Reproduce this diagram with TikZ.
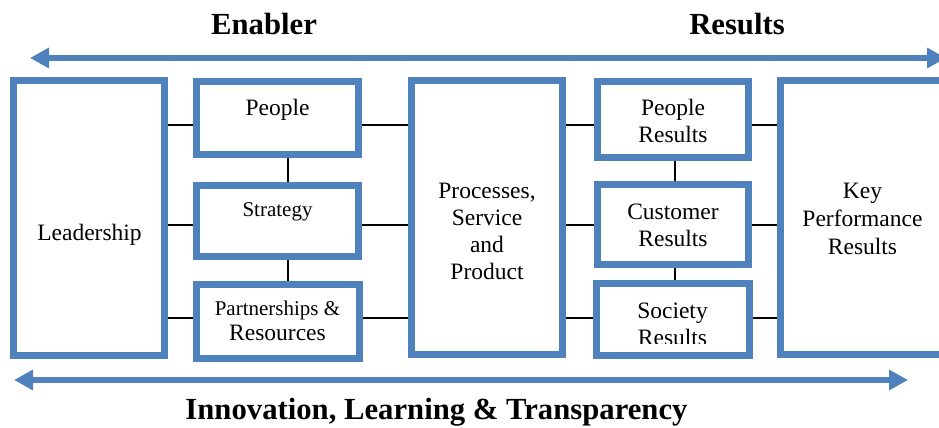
\documentclass[tikz,border=0pt]{standalone}
\usepackage{fontspec}
\setmainfont{Liberation Serif}
\usetikzlibrary{arrows.meta}
\definecolor{efqm}{HTML}{4F81BD}
\begin{document}
\begin{tikzpicture}[x=1pt,y=-1pt,
  box/.style={draw=efqm, line width=7pt, fill=white, inner sep=0pt, rectangle},
  lbl/.style={anchor=base, align=center, inner sep=0pt, font=\fontsize{23.5}{27}\selectfont},
  lblsmall/.style={lbl, font=\fontsize{21}{27}\selectfont},
  ttl/.style={anchor=base, inner sep=0pt, font=\fontsize{30.7}{34}\selectfont\bfseries},
  conn/.style={draw=black, line width=2pt},
  bigarrow/.style={draw=efqm, line width=6pt,
    arrows={Triangle[length=19pt 0 0,width=19.5pt 0 0]-Triangle[length=19pt 0 0,width=19.5pt 0 0]}}
]
\useasboundingbox (0,0) rectangle (939,428);
\clip (0,0) rectangle (939,428);

% row / column levels for connectors
\coordinate (r1) at (0,125);
\coordinate (r2) at (0,225);
\coordinate (r3) at (0,318);
\coordinate (c1) at (288,0);
\coordinate (c2) at (675,0);

% boxes
\node[box, minimum width=151pt, minimum height=275pt] (lead) at (89,218) {};
\node[box, minimum width=162pt, minimum height=73pt] (people) at (277.5,118) {};
\node[box, minimum width=162pt, minimum height=71pt] (strat) at (277.5,221) {};
\node[box, minimum width=163pt, minimum height=74pt] (partner) at (278,321.5) {};
\node[box, minimum width=151pt, minimum height=274pt] (proc) at (487,217.5) {};
\node[box, minimum width=151pt, minimum height=76pt] (pres) at (673,119.5) {};
\node[box, minimum width=151pt, minimum height=80pt] (cres) at (673,224.5) {};
\node[box, minimum width=153pt, minimum height=72pt] (sres) at (673,319.5) {};
\node[box, minimum width=186pt, minimum height=274pt] (kpr) at (873.5,217.5) {};

% connectors
\draw[conn] (lead.east |- r1) -- (people.west |- r1);
\draw[conn] (lead.east |- r2) -- (strat.west |- r2);
\draw[conn] (lead.east |- r3) -- (partner.west |- r3);
\draw[conn] (people.east |- r1) -- (proc.west |- r1);
\draw[conn] (strat.east |- r2) -- (proc.west |- r2);
\draw[conn] (partner.east |- r3) -- (proc.west |- r3);
\draw[conn] (proc.east |- r1) -- (pres.west |- r1);
\draw[conn] (proc.east |- r2) -- (cres.west |- r2);
\draw[conn] (proc.east |- r3) -- (sres.west |- r3);
\draw[conn] (pres.east |- r1) -- (kpr.west |- r1);
\draw[conn] (cres.east |- r2) -- (kpr.west |- r2);
\draw[conn] (sres.east |- r3) -- (kpr.west |- r3);
\draw[conn] (people.south -| c1) -- (strat.north -| c1);
\draw[conn] (strat.south -| c1) -- (partner.north -| c1);
\draw[conn] (pres.south -| c2) -- (cres.north -| c2);
\draw[conn] (cres.south -| c2) -- (sres.north -| c2);

% texts (anchor base = baseline of the last line)
\node[lbl] (tlead) at (89.5,240) {Leadership};
\node[lbl] (tpeople) at (277.5,115.7) {People};
\node[lblsmall] (tstrat) at (277.5,216.7) {Strategy};
\node[lbl, font=\fontsize{23.5}{25.7}\selectfont] (tpartner) at (277.5,340.7) {{\fontsize{21}{25.7}\selectfont Partnerships \&}\\Resources};
\node[lbl] (tproc) at (487,279) {Processes,\\Service\\and\\Product};
\node[lbl] (tpres) at (673,142.7) {People\\Results};
\node[lbl] (tcres) at (673,246) {Customer\\Results};
\begin{scope}
  \clip (594,280) rectangle (752,343.3);
  \node[lbl] (tsres) at (672.5,345.3) {Society\\Results};
\end{scope}
\node[lbl, font=\fontsize{23.5}{27.8}\selectfont] (tkpr) at (862.5,254) {Key\\Performance\\Results};

% titles
\node[ttl] (tenab) at (264,35) {Enabler};
\node[ttl] (tres) at (737,35) {Results};
\node[ttl] (tinno) at (436.5,419) {Innovation, Learning \& Transparency};

% big arrows
\coordinate (ta1) at (30,58);
\coordinate (ta2) at (946,58);
\coordinate (ba1) at (14,380);
\coordinate (ba2) at (908,380);
\draw[bigarrow] (ta1) -- (ta2);
\draw[bigarrow] (ba1) -- (ba2);
\end{tikzpicture}
\end{document}
